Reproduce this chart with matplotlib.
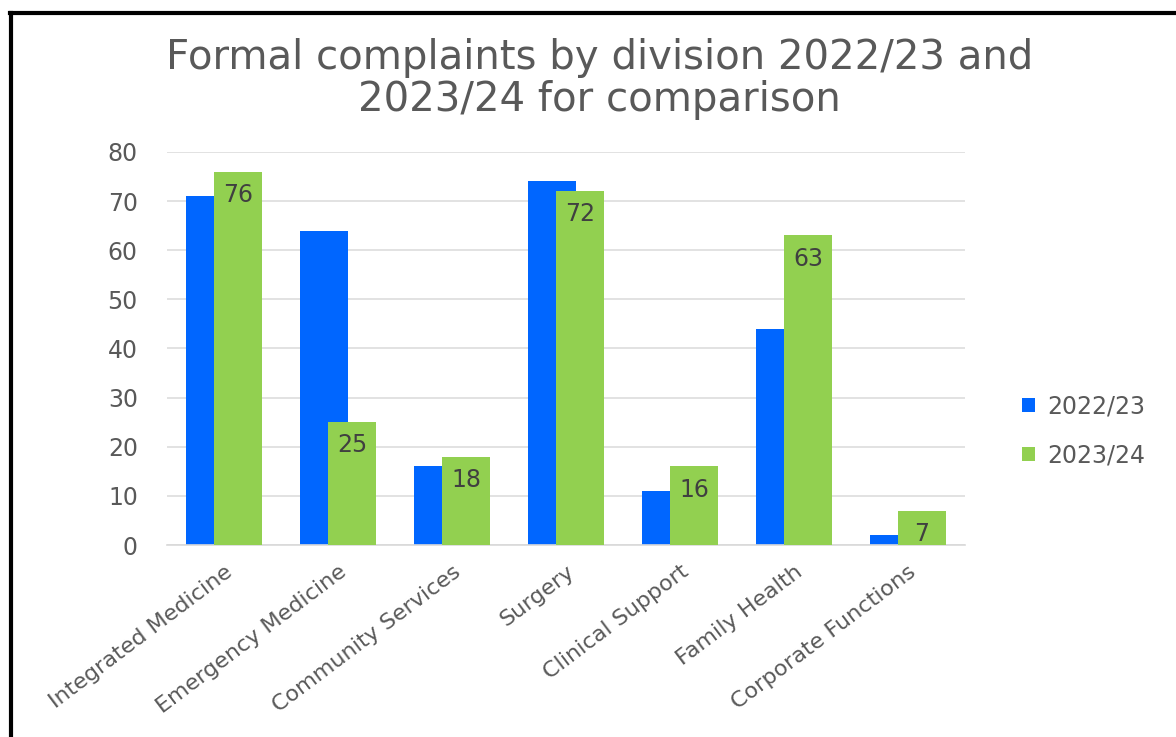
import matplotlib.pyplot as plt
import numpy as np

divisions = ['Integrated Medicine', 'Emergency Medicine', 'Community Services',
             'Surgery', 'Clinical Support', 'Family Health', 'Corporate Functions']
values_2223 = [71, 64, 16, 74, 11, 44, 2]
values_2324 = [76, 25, 18, 72, 16, 63, 7]
series_names = ['2022/23', '2023/24']
yticks = [0, 10, 20, 30, 40, 50, 60, 70, 80]

blue = '#0066FF'
green = '#92D050'
grey = '#595959'

plt.rcParams['font.family'] = ['DejaVu Sans']

fig = plt.figure(figsize=(11.76, 7.37), dpi=100)
ax = fig.add_axes([0.142, 0.2605, 0.6786, 0.5333])

x = np.arange(len(divisions))
width = 0.42
offset = 0.123

ax.bar(x - offset, values_2223, width, color=blue, label=series_names[0], zorder=2)
bars = ax.bar(x + offset, values_2324, width, color=green, label=series_names[1], zorder=3)

# value labels inside the top of the green bars
for rect, v in zip(bars, values_2324):
    ax.annotate(str(v), (rect.get_x() + rect.get_width() / 2, v),
                xytext=(0, -8), textcoords='offset points',
                ha='center', va='top', fontsize=17, color='#404040', zorder=4)

ax.set_xlim(-0.5, len(divisions) - 0.5)
ax.set_ylim(0, 80)
ax.set_yticks(yticks)
ax.yaxis.grid(True, color='#DDDDDD', linewidth=1.2, zorder=0)
ax.set_axisbelow(True)

for side in ['top', 'right', 'left']:
    ax.spines[side].set_visible(False)
ax.spines['bottom'].set_color('#D9D9D9')
ax.spines['bottom'].set_linewidth(1.2)

ax.tick_params(axis='both', length=0, colors=grey)
ax.tick_params(axis='y', labelsize=17, pad=21)
ax.set_xticks(x)
ax.set_xticklabels(divisions, rotation=37, ha='right', rotation_mode='anchor')
ax.tick_params(axis='x', labelsize=16, pad=12)

ax.legend(loc='center left', bbox_to_anchor=(1.045, 0.29), frameon=False,
          fontsize=17, labelcolor=grey, handlelength=0.55, handleheight=0.55,
          labelspacing=1.05, handletextpad=0.5)

fig.text(0.51, 0.893, 'Formal complaints by division 2022/23 and\n2023/24 for comparison',
         ha='center', va='center', fontsize=29, color=grey, linespacing=1.08)

# black frame on the left and top edges
fig.add_artist(plt.Line2D([0.0093, 0.0093], [0, 0.9826], color='black', linewidth=3,
                          transform=fig.transFigure))
fig.add_artist(plt.Line2D([0.0085, 1.0], [0.9826, 0.9826], color='black', linewidth=3,
                          transform=fig.transFigure))

fig.savefig('out.png', dpi=100)
